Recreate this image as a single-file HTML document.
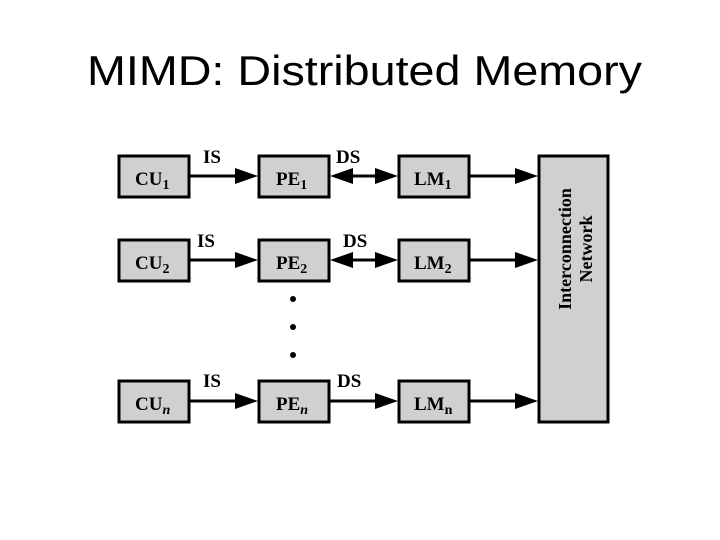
<!DOCTYPE html>
<html><head><style>body{margin:0;background:#fff}svg{display:block}</style></head><body>
<svg width="720" height="540" xmlns="http://www.w3.org/2000/svg">
<text x="87" y="85" font-family="Liberation Sans, sans-serif" font-size="42" textLength="555" lengthAdjust="spacingAndGlyphs" fill="#000">MIMD: Distributed Memory</text>
<g fill="#d0d0d0" stroke="#000" stroke-width="3">
<rect x="119" y="156" width="70" height="41"/><rect x="259" y="156" width="70" height="41"/><rect x="399" y="156" width="70" height="41"/>
<rect x="119" y="240" width="70" height="41"/><rect x="259" y="240" width="70" height="41"/><rect x="399" y="240" width="70" height="41"/>
<rect x="119" y="381" width="70" height="41"/><rect x="259" y="381" width="70" height="41"/><rect x="399" y="381" width="70" height="41"/>
<rect x="539" y="156" width="69" height="266"/>
</g>
<g stroke="#000" stroke-width="3">
<line x1="189" y1="176" x2="240" y2="176"/><line x1="340" y1="176" x2="385" y2="176"/><line x1="469" y1="176" x2="520" y2="176"/>
<line x1="189" y1="260" x2="240" y2="260"/><line x1="340" y1="260" x2="385" y2="260"/><line x1="469" y1="260" x2="520" y2="260"/>
<line x1="189" y1="401" x2="240" y2="401"/><line x1="329" y1="401" x2="385" y2="401"/><line x1="469" y1="401" x2="520" y2="401"/>
</g>
<g fill="#000">
<polygon points="235,168 258,176 235,184"/><polygon points="375,168 398,176 375,184"/><polygon points="515,168 538,176 515,184"/><polygon points="353,168 330,176 353,184"/>
<polygon points="235,252 258,260 235,268"/><polygon points="375,252 398,260 375,268"/><polygon points="515,252 538,260 515,268"/><polygon points="353,252 330,260 353,268"/>
<polygon points="235,393 258,401 235,409"/><polygon points="375,393 398,401 375,409"/><polygon points="515,393 538,401 515,409"/>
<circle cx="293" cy="299" r="3"/><circle cx="293" cy="327" r="3"/><circle cx="293" cy="355" r="3"/>
</g>
<g font-family="Liberation Serif, serif" font-weight="bold" font-size="19" fill="#000">
<text x="203" y="163">IS</text><text x="336" y="163">DS</text>
<text x="197" y="247">IS</text><text x="343" y="247">DS</text>
<text x="203" y="387">IS</text><text x="337" y="387">DS</text>
<text x="135" y="185">CU<tspan font-size="14" dy="4">1</tspan></text>
<text x="276" y="185">PE<tspan font-size="14" dy="4">1</tspan></text>
<text x="414" y="185">LM<tspan font-size="14" dy="4">1</tspan></text>
<text x="135" y="269">CU<tspan font-size="14" dy="4">2</tspan></text>
<text x="276" y="269">PE<tspan font-size="14" dy="4">2</tspan></text>
<text x="414" y="269">LM<tspan font-size="14" dy="4">2</tspan></text>
<text x="135" y="410">CU<tspan font-size="14" dy="4" font-style="italic">n</tspan></text>
<text x="276" y="410">PE<tspan font-size="14" dy="4" font-style="italic">n</tspan></text>
<text x="414" y="410">LM<tspan font-size="14" dy="4">n</tspan></text>
<g transform="translate(573,249) rotate(-90)" font-size="18" text-anchor="middle">
<text x="0" y="-2">Interconnection</text><text x="0" y="19">Network</text>
</g>
</g>
</svg>
</body></html>
